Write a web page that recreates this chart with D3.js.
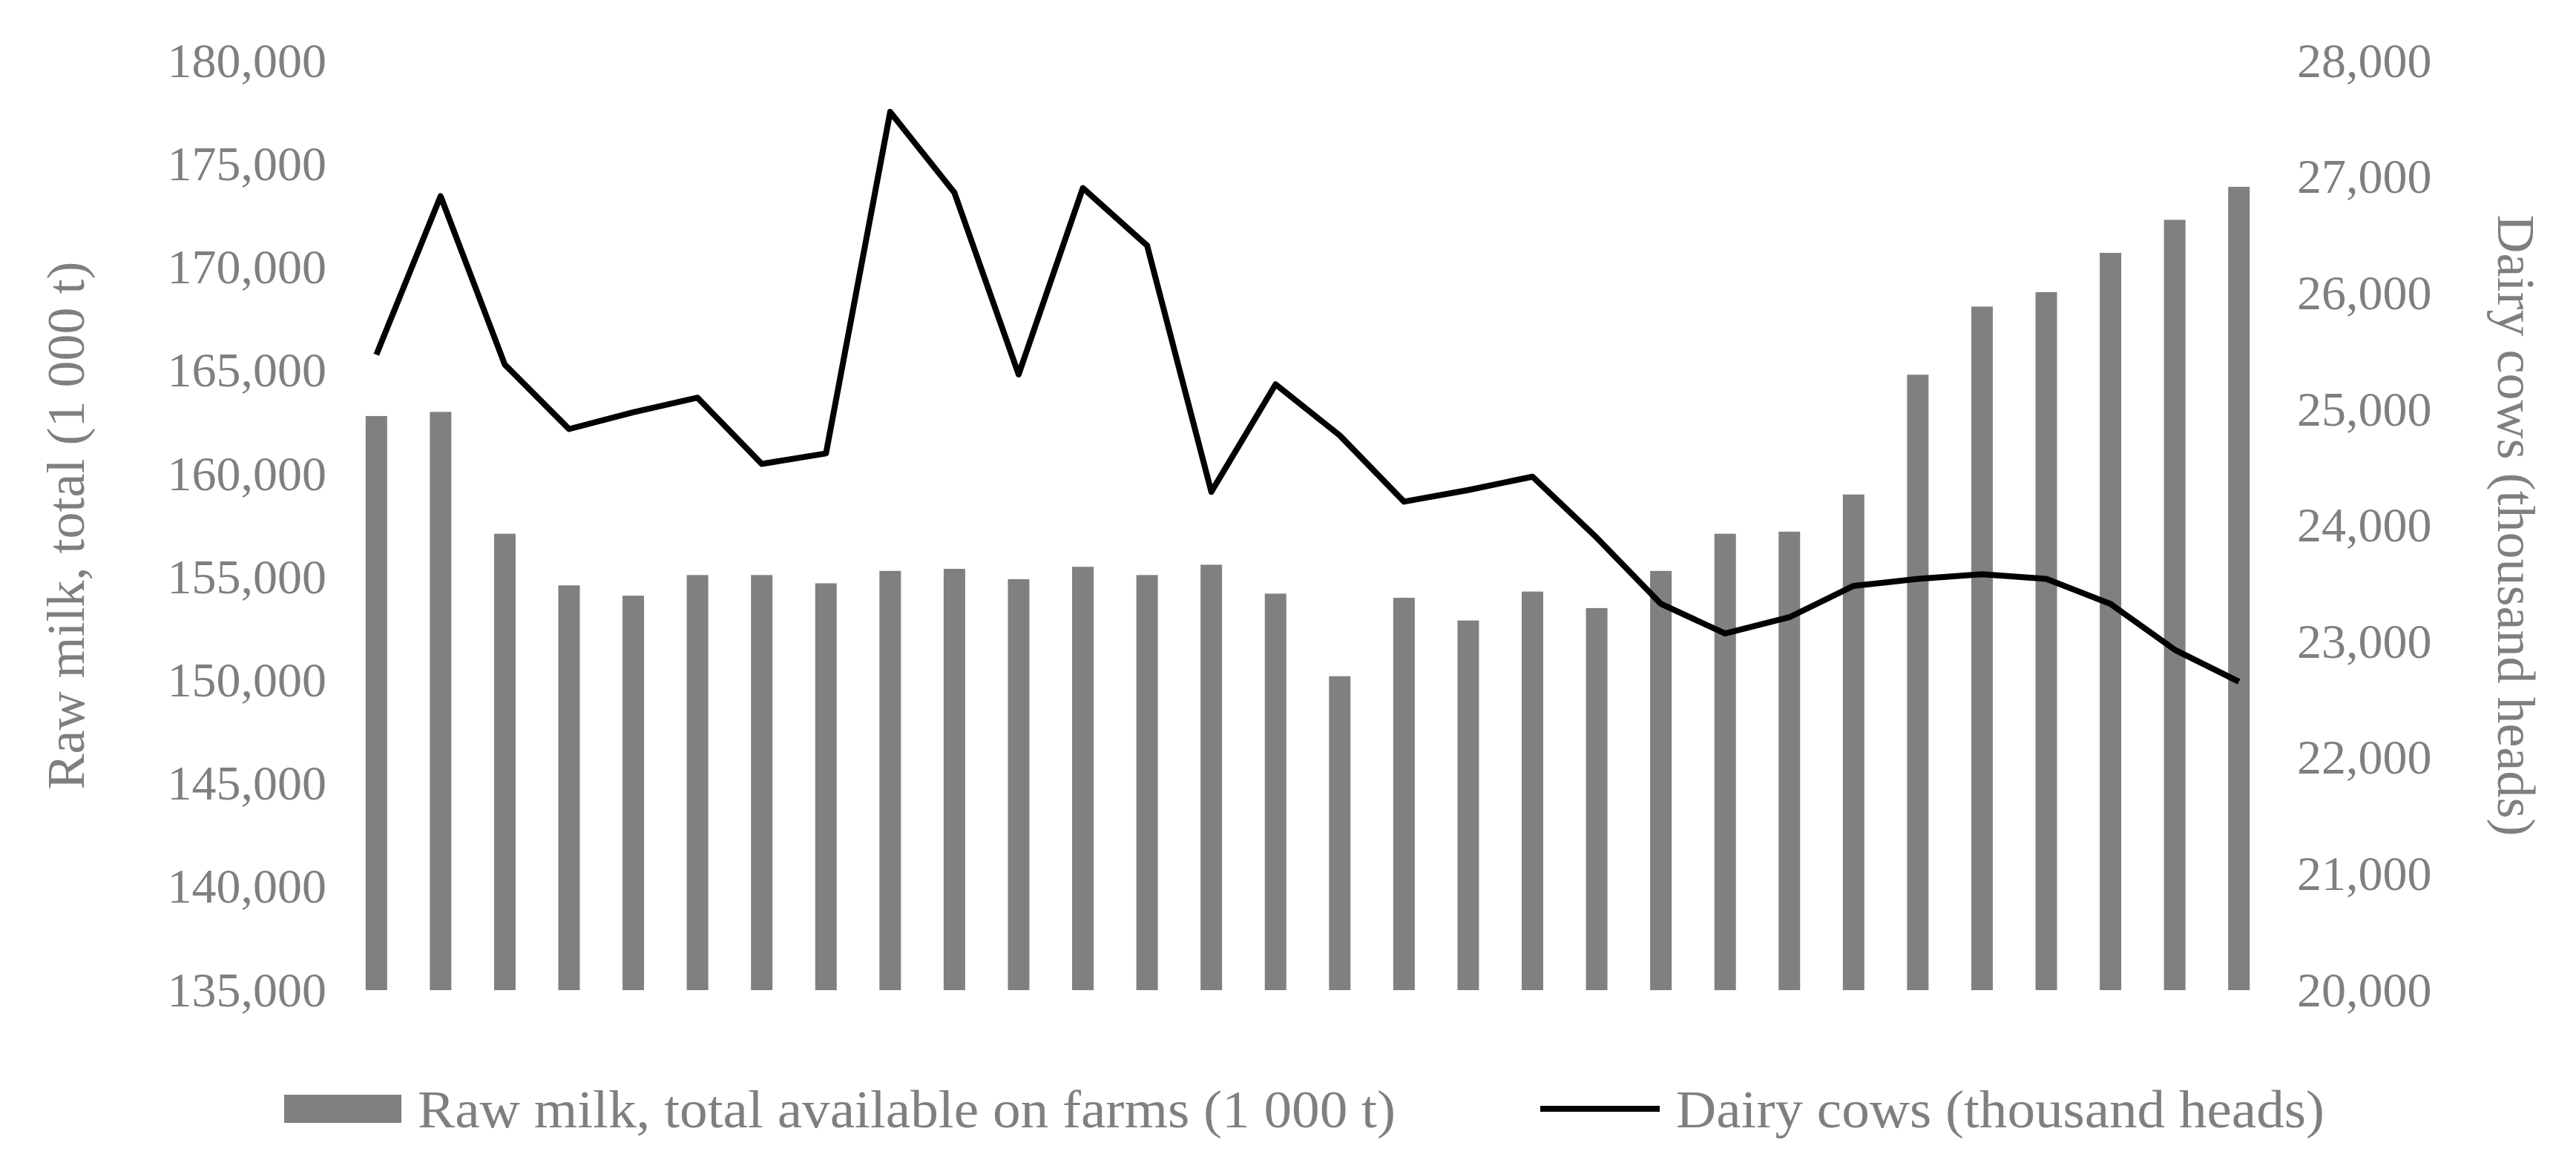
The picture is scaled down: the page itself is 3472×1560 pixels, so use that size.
<!DOCTYPE html>
<html>
<head>
<meta charset="utf-8">
<script src="https://d3js.org/d3.v7.min.js"></script>
<style>
  body { margin: 0; background: white; }
  text { font-family: "Liberation Serif", "DejaVu Serif", serif; fill: #7f7f7f; }
</style>
</head>
<body>
<svg id="chart" width="3472" height="1560"></svg>
<script>
// one entry per year, 30 periods (no category labels shown)
var periods = d3.range(1, 31);
var rawMilk = [162800, 163000, 157100, 154600, 154100, 155100, 155100, 154700, 155300, 155400,
               154900, 155500, 155100, 155600, 154200, 150200, 154000, 152900, 154300, 153500,
               155300, 157100, 157200, 159000, 164800, 168100, 168800, 170700, 172300, 173900];
var dairyCows = [25470, 26835, 25385, 24830, 24975, 25100, 24530, 24620, 27560, 26865,
                 25300, 26905, 26410, 24290, 25215, 24775, 24205, 24305, 24420, 23895,
                 23325, 23070, 23210, 23480, 23540, 23580, 23540, 23325, 22930, 22655];
var leftTicks = d3.range(135000, 180001, 5000);
var rightTicks = d3.range(20000, 28001, 1000);

var svg = d3.select("#chart");
var plotTop = 82, plotBottom = 1335;

var x = d3.scaleBand().domain(periods).range([464, 3061]).paddingInner(0).paddingOuter(0);
var yL = d3.scaleLinear().domain([135000, 180000]).range([plotBottom, plotTop]);
var yR = d3.scaleLinear().domain([20000, 28000]).range([plotBottom, plotTop]);
var fmt = d3.format(",");

// left axis
var gL = svg.append("g").attr("transform", "translate(440,0)")
    .call(d3.axisLeft(yL).tickValues(leftTicks).tickFormat(fmt).tickSize(0).tickPadding(0));
gL.select(".domain").remove();
gL.selectAll("text").style("font-size", "66px").style("fill", "#7f7f7f")
    .style("font-family", "Liberation Serif");

// right axis
var gR = svg.append("g").attr("transform", "translate(3096,0)")
    .call(d3.axisRight(yR).tickValues(rightTicks).tickFormat(fmt).tickSize(0).tickPadding(0));
gR.select(".domain").remove();
gR.selectAll("text").style("font-size", "66px").style("fill", "#7f7f7f")
    .style("font-family", "Liberation Serif");

// axis titles
svg.append("text")
    .attr("transform", "translate(88," + ((plotTop + plotBottom) / 2) + ") rotate(-90)")
    .attr("text-anchor", "middle").attr("dy", "0.35em")
    .style("font-size", "72px")
    .text("Raw milk, total (1 000 t)");
svg.append("text")
    .attr("transform", "translate(3392," + ((plotTop + plotBottom) / 2) + ") rotate(90)")
    .attr("text-anchor", "middle").attr("dy", "0.35em")
    .style("font-size", "72px")
    .text("Dairy cows (thousand heads)");

// bars
var bw = 29;
svg.selectAll("rect.bar").data(rawMilk).enter().append("rect")
    .attr("class", "bar")
    .attr("x", function (d, i) { return x(periods[i]) + x.bandwidth() / 2 - bw / 2; })
    .attr("y", function (d) { return yL(d); })
    .attr("width", bw)
    .attr("height", function (d) { return plotBottom - yL(d); })
    .attr("fill", "#808080");

// line
var line = d3.line()
    .x(function (d, i) { return x(periods[i]) + x.bandwidth() / 2; })
    .y(function (d) { return yR(d); });
svg.append("path").datum(dairyCows)
    .attr("d", line)
    .attr("fill", "none")
    .attr("stroke", "#000")
    .attr("stroke-width", 8)
    .attr("stroke-linejoin", "round");

// legend
var ly = 1495;
svg.append("rect").attr("x", 383).attr("y", ly - 19).attr("width", 158).attr("height", 38).attr("fill", "#808080");
svg.append("text").attr("x", 563).attr("y", ly).attr("dy", "0.35em").style("font-size", "72px")
    .attr("textLength", 1318).attr("lengthAdjust", "spacingAndGlyphs")
    .text("Raw milk, total available on farms (1 000 t)");
svg.append("line").attr("x1", 2076).attr("x2", 2237).attr("y1", ly).attr("y2", ly)
    .attr("stroke", "#000").attr("stroke-width", 8);
svg.append("text").attr("x", 2259).attr("y", ly).attr("dy", "0.35em").style("font-size", "72px")
    .attr("textLength", 874).attr("lengthAdjust", "spacingAndGlyphs")
    .text("Dairy cows (thousand heads)");
</script>
</body>
</html>
